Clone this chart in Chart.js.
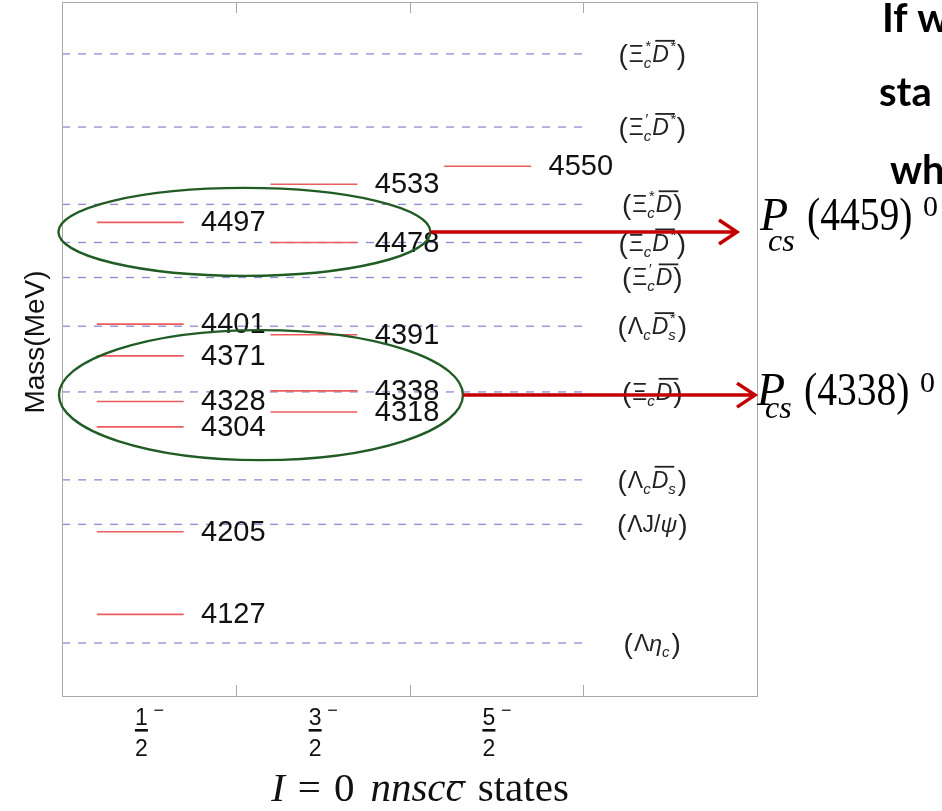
<!DOCTYPE html>
<html>
<head>
<meta charset="utf-8">
<script src="https://cdn.jsdelivr.net/npm/chart.js@4.4.1/dist/chart.umd.min.js"></script>
<style>
  html, body { margin: 0; padding: 0; background: #fff; }
  canvas { display: block; }
</style>
</head>
<body>
<canvas id="levels" width="942" height="811"></canvas>
<script>
// spin-parity columns (J^P = 1/2-, 3/2-, 5/2-)
var spinNum = ['1', '3', '5'];
// predicted masses (MeV) in each column
var massHalf = [4497, 4401, 4371, 4328, 4304, 4205, 4127];
var massThreeHalf = [4533, 4478, 4391, 4338, 4318];
var massFiveHalf = [4550];
// meson-baryon thresholds (MeV)
var thresholdMass = [4656, 4587, 4514, 4478, 4445, 4399, 4337, 4254, 4212, 4100];
var thresholdNames = [
  [{b: 'Ξ', sup: '*', sub: 'c'}, {b: 'D', it: 1, bar: 1, sup: '*'}],
  [{b: 'Ξ', sup: '′', sub: 'c'}, {b: 'D', it: 1, bar: 1, sup: '*'}],
  [{b: 'Ξ', sup: '*', sub: 'c'}, {b: 'D', it: 1, bar: 1}],
  [{b: 'Ξ', sub: 'c'}, {b: 'D', it: 1, bar: 1, sup: '*'}],
  [{b: 'Ξ', sup: '′', sub: 'c'}, {b: 'D', it: 1, bar: 1}],
  [{b: 'Λ', sub: 'c'}, {b: 'D', it: 1, bar: 1, sup: '*', sub: 's'}],
  [{b: 'Ξ', sub: 'c'}, {b: 'D', it: 1, bar: 1}],
  [{b: 'Λ', sub: 'c'}, {b: 'D', it: 1, bar: 1, sub: 's'}],
  [{b: 'ΛJ/'}, {b: 'ψ', it: 1}],
  [{b: 'Λ'}, {b: 'η', it: 1, sub: 'c'}]
];
// the two circled groups and the P_cs states they point to
var pcsNames = ['4459', '4338'];
var groupMass = [4488, 4334];

var columns = [massHalf, massThreeHalf, massFiveHalf];
var sans = '"Liberation Sans", Arial, sans-serif';
var serif = '"Liberation Serif", "Times New Roman", serif';

var datasets = [];
columns.forEach(function(col, c){
  col.forEach(function(m){
    datasets.push({
      data: [{x: c + 0.2, y: m}, {x: c + 0.7, y: m}],
      borderColor: 'rgb(236,92,92)',
      borderWidth: 1.6
    });
  });
});
thresholdMass.forEach(function(m){
  datasets.push({
    data: [{x: 0, y: m}, {x: 3, y: m}],
    borderColor: 'rgba(120,120,205,0.85)',
    borderWidth: 1.3,
    borderDash: [8, 8]
  });
});

function drawThreshold(ctx, atoms, cx, cy) {
  var main = '23px ' + sans, mainIt = 'italic 23px ' + sans;
  var scr = 'italic 15px ' + sans, par = '28px ' + sans;
  ctx.font = par;
  var pw = ctx.measureText('(').width;
  var w = 2 * pw + 3, items = [];
  atoms.forEach(function(a){
    ctx.font = a.it ? mainIt : main;
    var bw = ctx.measureText(a.b).width;
    ctx.font = scr;
    var sw = Math.max(a.sup ? ctx.measureText(a.sup).width : 0, a.sub ? ctx.measureText(a.sub).width : 0);
    items.push({a: a, bw: bw, sw: sw});
    w += bw + (sw ? sw + 1 : 0);
  });
  var x = cx - w / 2, base = cy + 8;
  ctx.textAlign = 'left';
  ctx.textBaseline = 'alphabetic';
  ctx.font = par;
  ctx.fillText('(', x, base + 2);
  x += pw + 1;
  items.forEach(function(it){
    var a = it.a;
    ctx.font = a.it ? mainIt : main;
    ctx.fillText(a.b, x, base);
    if (a.bar) {
      ctx.fillRect(x + 3, base - 22, it.bw + 3, 1.8);
    }
    x += it.bw;
    ctx.font = scr;
    if (a.sup) ctx.fillText(a.sup, x + 1, base - 11);
    if (a.sub) ctx.fillText(a.sub, x, base + 6);
    if (it.sw) x += it.sw + 1;
  });
  ctx.font = par;
  ctx.fillText(')', x + 1, base + 2);
}

function arrow(ctx, x0, x1, y) {
  ctx.beginPath();
  ctx.moveTo(x0, y);
  ctx.lineTo(x1 - 2, y);
  ctx.moveTo(x1 - 18, y - 12);
  ctx.lineTo(x1, y);
  ctx.lineTo(x1 - 18, y + 12);
  ctx.stroke();
}

function drawPcs(ctx, name, x, base, subDy, supDy) {
  ctx.textAlign = 'left';
  ctx.font = 'italic 46px ' + serif;
  ctx.fillText('P', x, base);
  ctx.font = 'italic 32px ' + serif;
  ctx.fillText('cs', x + 8, base + subDy);
  ctx.save();
  ctx.translate(x + 47, base);
  ctx.scale(0.86, 1);
  ctx.font = '46px ' + serif;
  ctx.fillText('(' + name + ')', 0, 0);
  ctx.restore();
  ctx.font = '30px ' + serif;
  ctx.fillText('0', x + 163, base + supDy);
}

var annot = {
  id: 'annot',
  afterDraw: function(chart){
    var ctx = chart.ctx, a = chart.chartArea;
    var xs = chart.scales.x, ys = chart.scales.y;
    ctx.save();

    // frame and ticks
    ctx.strokeStyle = '#a9a9a9';
    ctx.lineWidth = 1;
    ctx.strokeRect(a.left + 0.5, a.top + 0.5, a.right - a.left, a.bottom - a.top);
    for (var t = 1; t <= 3; t++) {
      var tx = Math.round(xs.getPixelForValue(t)) + 0.5;
      ctx.beginPath();
      ctx.moveTo(tx, a.bottom); ctx.lineTo(tx, a.bottom - 11);
      ctx.moveTo(tx, a.top); ctx.lineTo(tx, a.top + 11);
      ctx.stroke();
    }

    ctx.fillStyle = '#111';
    // state labels
    ctx.font = '29px ' + sans;
    ctx.textAlign = 'left';
    ctx.textBaseline = 'middle';
    columns.forEach(function(col, c){
      col.forEach(function(m){
        ctx.fillText(String(m), xs.getPixelForValue(c + 0.8), ys.getPixelForValue(m) + 1);
      });
    });

    // threshold labels
    ctx.fillStyle = '#222';
    thresholdMass.forEach(function(m, i){
      drawThreshold(ctx, thresholdNames[i], xs.getPixelForValue(3.4), ys.getPixelForValue(m));
    });

    // x tick labels as fractions
    ctx.fillStyle = '#111';
    ctx.textBaseline = 'alphabetic';
    ctx.textAlign = 'center';
    spinNum.forEach(function(n, i){
      var cx = xs.getPixelForValue(i + 0.5);
      ctx.font = '23px ' + sans;
      ctx.fillText(n, cx - 7.5, 725);
      ctx.fillRect(cx - 14, 729, 13, 2.6);
      ctx.fillText('2', cx - 7.5, 756);
      ctx.font = '18px ' + sans;
      ctx.fillText('−', cx + 10, 716);
    });

    // x title: I = 0 nnsc cbar states
    var segs = [
      {t: 'I', f: 'italic 41px ' + serif, gap: 13},
      {t: '=', f: '41px ' + serif, gap: 13},
      {t: '0', f: '41px ' + serif, gap: 16},
      {t: 'nnsc', f: 'italic 41px ' + serif, gap: 0},
      {t: 'c', f: 'italic 41px ' + serif, gap: 14, bar: 1},
      {t: 'states', f: '41px ' + serif, gap: 0}
    ];
    var tw = 0;
    segs.forEach(function(s){ ctx.font = s.f; s.w = ctx.measureText(s.t).width; tw += s.w + s.gap; });
    var sx = 420 - tw / 2;
    ctx.textAlign = 'left';
    segs.forEach(function(s){
      ctx.font = s.f;
      ctx.fillText(s.t, sx, 801);
      if (s.bar) ctx.fillRect(sx + 4, 781, s.w - 2, 1.8);
      sx += s.w + s.gap;
    });

    // y title
    ctx.save();
    ctx.translate(36, 342);
    ctx.rotate(-Math.PI / 2);
    ctx.textAlign = 'center';
    ctx.textBaseline = 'middle';
    ctx.font = '28px ' + sans;
    ctx.fillText('Mass(MeV)', 0, 0);
    ctx.restore();

    // circled groups
    ctx.strokeStyle = 'rgb(32,92,36)';
    ctx.lineWidth = 2.4;
    var ell = [
      {cx: xs.getPixelForValue(1.05), rx: 186, ry: 44},
      {cx: xs.getPixelForValue(1.145), rx: 202, ry: 65}
    ];
    ell.forEach(function(e, i){
      var cy = ys.getPixelForValue(groupMass[i]);
      ctx.beginPath();
      ctx.ellipse(e.cx, cy, e.rx, e.ry, 0, 0, Math.PI * 2);
      ctx.stroke();
    });

    // arrows
    ctx.strokeStyle = 'rgb(196,0,0)';
    ctx.lineWidth = 3.5;
    ctx.lineCap = 'butt';
    arrow(ctx, ell[0].cx + ell[0].rx, 737, ys.getPixelForValue(groupMass[0]));
    arrow(ctx, ell[1].cx + ell[1].rx, 755, ys.getPixelForValue(groupMass[1]));

    // P_cs names
    ctx.fillStyle = '#000';
    drawPcs(ctx, pcsNames[0], 760, 230, 21, -14);
    drawPcs(ctx, pcsNames[1], 757, 405, 13, -13);

    // slide text cut off at the edge
    ctx.font = 'bold 40px Lato, "Open Sans", sans-serif';
    ctx.fillText('If w', 882, 32);
    ctx.fillText('sta', 879, 106);
    ctx.fillText('wh', 890, 184);

    ctx.restore();
  }
};

var chart = new Chart(document.getElementById('levels'), {
  type: 'line',
  data: { datasets: datasets },
  options: {
    responsive: false,
    animation: false,
    devicePixelRatio: 1,
    layout: { padding: { left: 62, top: 2, right: 185, bottom: 115 } },
    plugins: { legend: { display: false }, tooltip: { enabled: false } },
    elements: { point: { radius: 0 }, line: { tension: 0 } },
    scales: {
      x: { type: 'linear', min: 0, max: 4, display: false },
      y: { type: 'linear', min: 4050, max: 4705, display: false }
    }
  },
  plugins: [annot]
});
</script>
</body>
</html>
